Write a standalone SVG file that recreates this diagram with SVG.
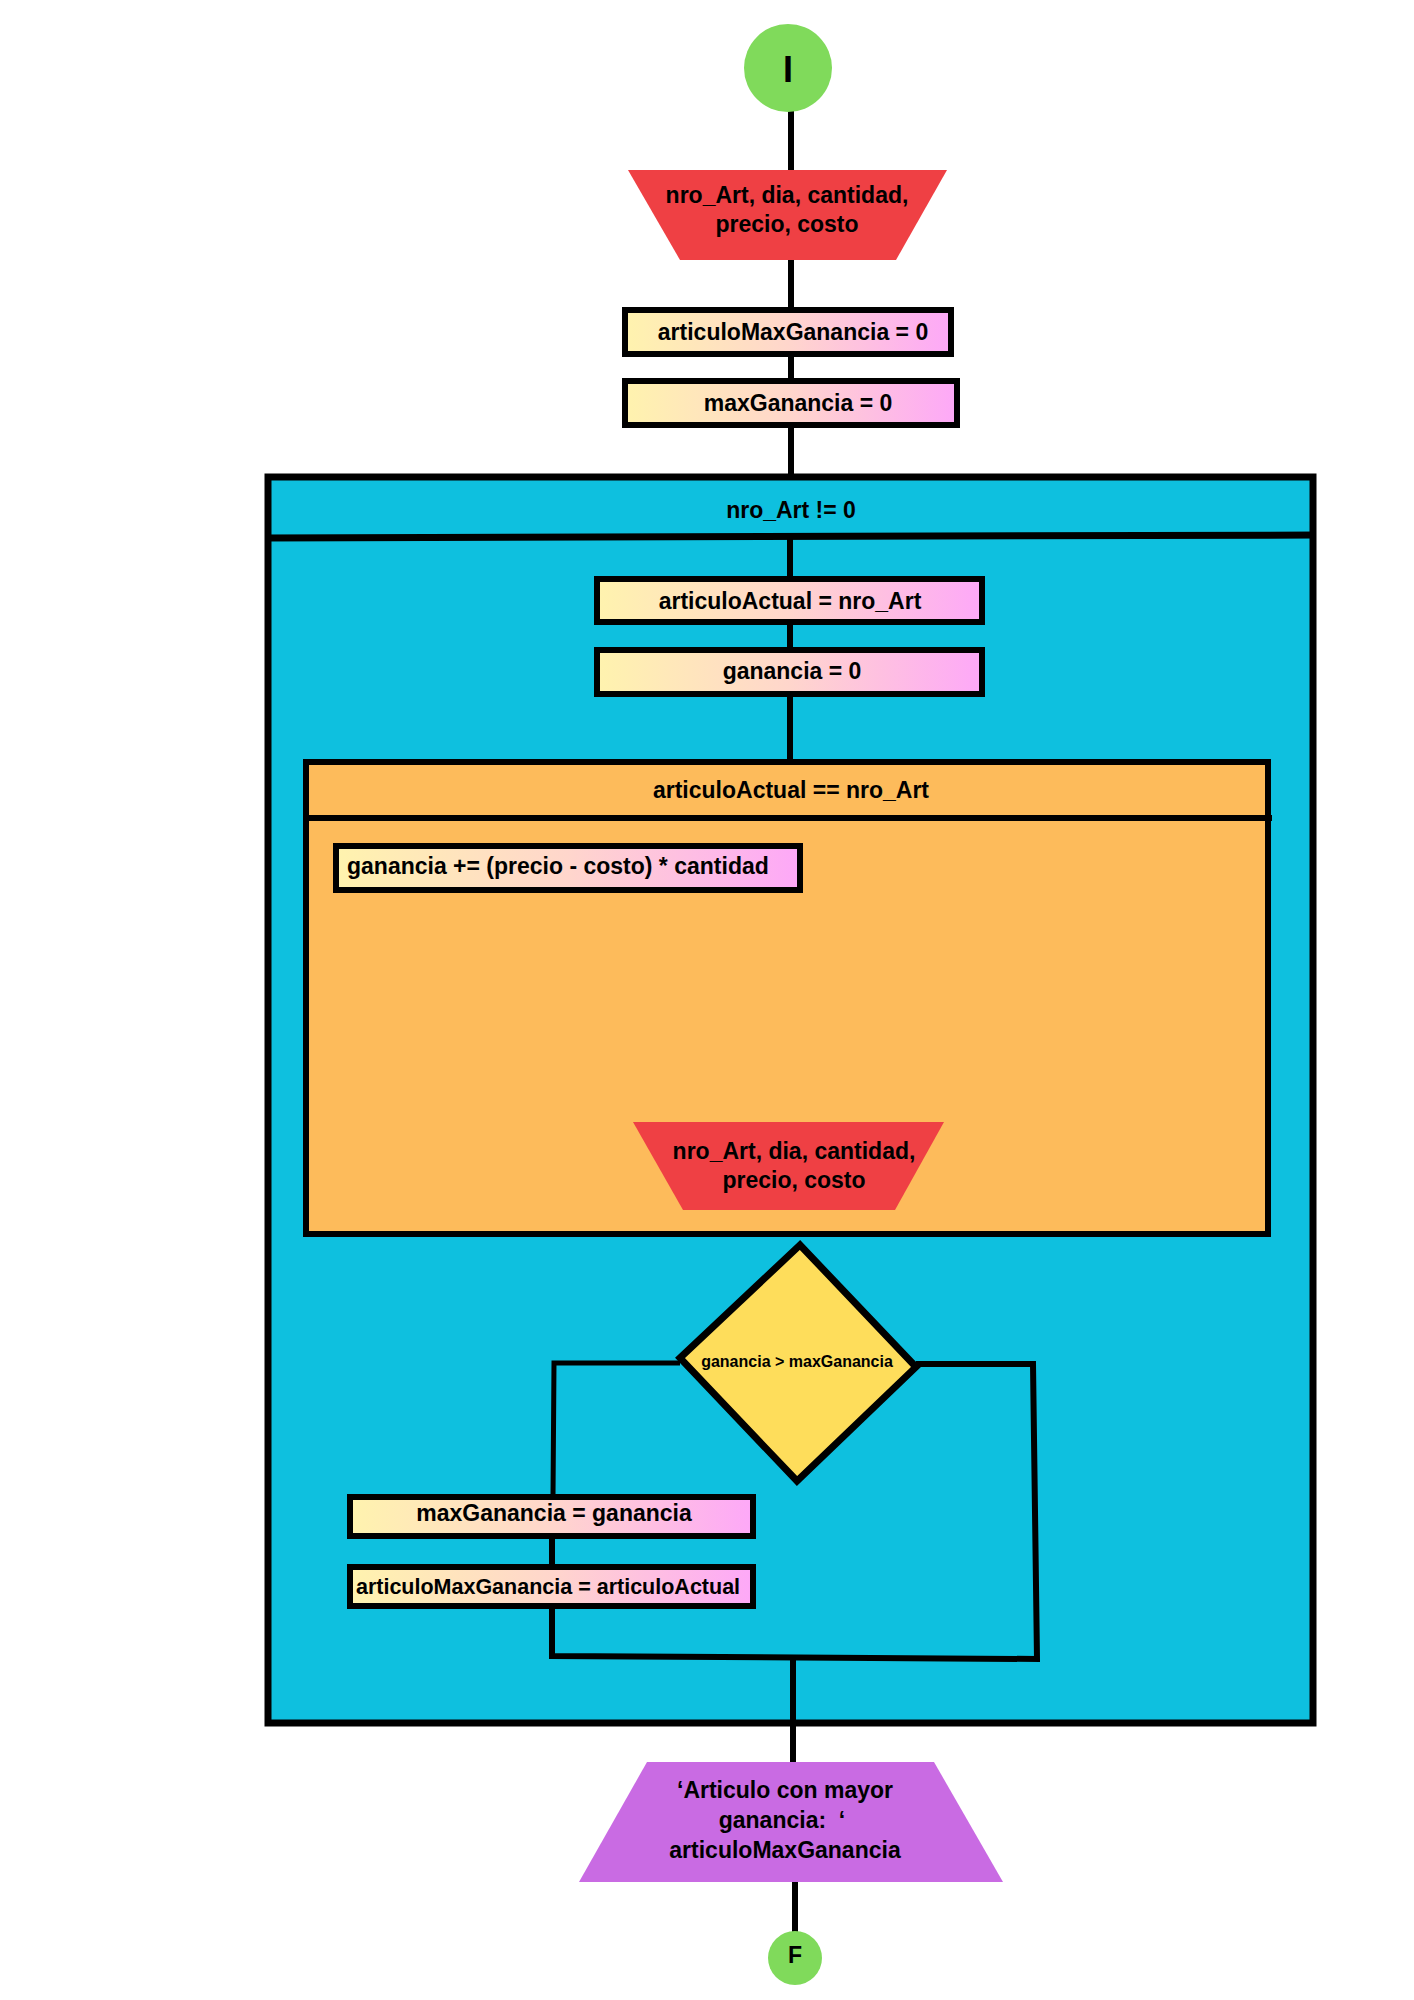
<svg xmlns="http://www.w3.org/2000/svg" width="1414" height="2000" viewBox="0 0 1414 2000">
<defs>
<linearGradient id="grad" x1="0" y1="0" x2="1" y2="0">
<stop offset="0" stop-color="#FFF3AE"/>
<stop offset="0.5" stop-color="#FFD6CC"/>
<stop offset="1" stop-color="#FDA8F8"/>
</linearGradient>
<style>
text{font-family:"Liberation Sans",Arial,sans-serif;font-weight:bold;fill:#000;text-anchor:middle}
.t22{font-size:23px}
.proc{fill:url(#grad);stroke:#000;stroke-width:6}
.conn{stroke:#000;stroke-width:6;fill:none}
.thin{stroke:#000;stroke-width:5;fill:none}
.term{fill:#80DA5B}
.input{fill:#EF4044}
</style>
</defs>
<rect width="1414" height="2000" fill="#fff"/>

<g id="loop-outer">
<rect x="268" y="477" width="1045" height="1246" fill="#0EC0DF" stroke="#000" stroke-width="7"/>
<line x1="265" y1="538" x2="1316" y2="535" stroke="#000" stroke-width="7"/>
<text class="t22" x="791" y="518">nro_Art != 0</text>
</g>

<g id="loop-inner">
<rect x="306" y="762" width="962" height="472" fill="#FDBB5B" stroke="#000" stroke-width="6"/>
<line x1="303" y1="818" x2="1272" y2="818" stroke="#000" stroke-width="6"/>
<text class="t22" x="791" y="798">articuloActual == nro_Art</text>
</g>

<g id="connectors">
<line class="conn" x1="791" y1="108" x2="791" y2="172"/>
<line class="conn" x1="791" y1="258" x2="791" y2="309"/>
<line class="conn" x1="791" y1="355" x2="791" y2="380"/>
<line class="conn" x1="791" y1="426" x2="791" y2="476"/>
<line class="conn" x1="790" y1="538" x2="790" y2="578"/>
<line class="conn" x1="790" y1="623" x2="790" y2="649"/>
<line class="conn" x1="790" y1="695" x2="790" y2="761"/>
<path class="thin" d="M680 1363 L554 1363 L553 1496"/>
<line class="conn" x1="552" y1="1537" x2="552" y2="1566"/>
<path class="conn" d="M552 1607 L552 1656 L1037 1659 L1033 1364 L916 1364"/>
<line class="conn" x1="793" y1="1658" x2="793" y2="1764"/>
<line class="conn" x1="795" y1="1880" x2="795" y2="1934"/>
</g>

<g id="start">
<circle class="term" cx="788" cy="68" r="44"/>
<text x="788" y="82" style="font-size:36px">I</text>
</g>

<g id="input1">
<polygon class="input" points="628,170 947,170 896,260 680,260"/>
<text class="t22" x="787" y="203">nro_Art, dia, cantidad,</text>
<text class="t22" x="787" y="232">precio, costo</text>
</g>

<g id="assign1">
<rect class="proc" x="625" y="310" width="326" height="44"/>
<text class="t22" x="793" y="340">articuloMaxGanancia = 0</text>
</g>

<g id="assign2">
<rect class="proc" x="625" y="381" width="332" height="44"/>
<text class="t22" x="798" y="411">maxGanancia = 0</text>
</g>

<g id="assign3">
<rect class="proc" x="597" y="579" width="385" height="43"/>
<text class="t22" x="790" y="609">articuloActual = nro_Art</text>
</g>

<g id="assign4">
<rect class="proc" x="597" y="650" width="385" height="44"/>
<text class="t22" x="792" y="679">ganancia = 0</text>
</g>

<g id="assign5">
<rect class="proc" x="336" y="846" width="464" height="44"/>
<text class="t22" x="347" y="874" style="text-anchor:start">ganancia += (precio - costo) * cantidad</text>
</g>

<g id="input2">
<polygon class="input" points="633,1122 944,1122 895,1210 683,1210"/>
<text class="t22" x="794" y="1159">nro_Art, dia, cantidad,</text>
<text class="t22" x="794" y="1188">precio, costo</text>
</g>

<g id="decision">
<polygon points="800,1245 680,1358 797,1481 916,1367" fill="#FEDD5B" stroke="#000" stroke-width="7" stroke-linejoin="miter"/>
<text x="797" y="1367" style="font-size:16px">ganancia &gt; maxGanancia</text>
</g>

<g id="assign6">
<rect class="proc" x="350" y="1497" width="403" height="39"/>
<text class="t22" x="554" y="1521">maxGanancia = ganancia</text>
</g>

<g id="assign7">
<rect class="proc" x="350" y="1567" width="403" height="39"/>
<text x="548" y="1594" style="font-size:21.5px">articuloMaxGanancia = articuloActual</text>
</g>

<g id="output">
<polygon points="647,1762 934,1762 1003,1882 579,1882" fill="#C96BE3"/>
<text class="t22" x="785" y="1798">‘Articulo con mayor</text>
<text class="t22" x="782" y="1828" xml:space="preserve">ganancia:  ‘</text>
<text class="t22" x="785" y="1858">articuloMaxGanancia</text>
</g>

<g id="end">
<circle class="term" cx="795" cy="1958" r="27"/>
<text x="795" y="1963" style="font-size:23px">F</text>
</g>
</svg>
